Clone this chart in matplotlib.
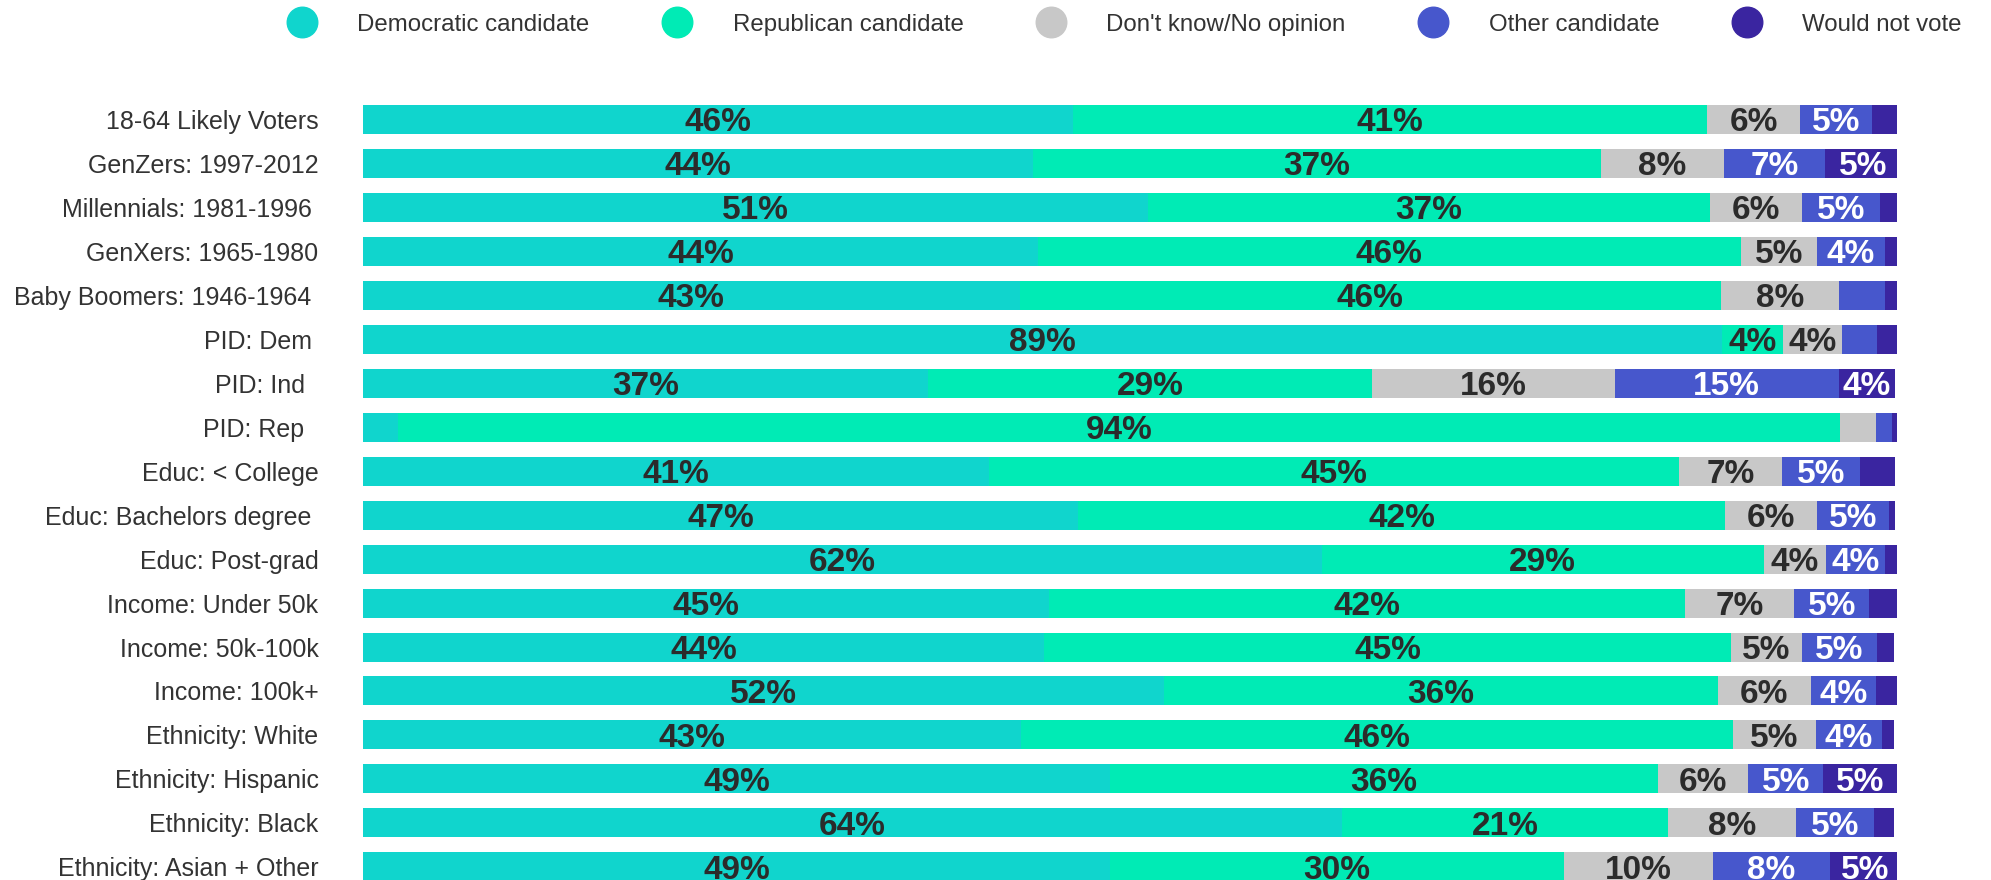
import numpy as np
import matplotlib
matplotlib.use("Agg")
import matplotlib.pyplot as plt
from matplotlib.lines import Line2D

plt.rcParams['font.family'] = ['Liberation Sans', 'DejaVu Sans']

# groups, top to bottom
groups = ["18-64 Likely Voters", "GenZers: 1997-2012", "Millennials: 1981-1996 ",
          "GenXers: 1965-1980", "Baby Boomers: 1946-1964 ", "PID: Dem ", "PID: Ind  ",
          "PID: Rep  ", "Educ: < College", "Educ: Bachelors degree ", "Educ: Post-grad",
          "Income: Under 50k", "Income: 50k-100k", "Income: 100k+", "Ethnicity: White",
          "Ethnicity: Hispanic", "Ethnicity: Black", "Ethnicity: Asian + Other"]

series = ["Democratic candidate", "Republican candidate", "Don't know/No opinion",
          "Other candidate", "Would not vote"]

# percentages
dem   = [46.3, 43.7, 51.2, 44.0, 42.8, 88.6, 36.8, 2.3, 40.8, 46.6, 62.5, 44.7, 44.4, 52.2, 42.9, 48.7, 63.8, 48.7]
rep   = [41.3, 37.0, 36.6, 45.8, 45.7, 4.0, 29.0, 94.0, 45.0, 42.2, 28.8, 41.5, 44.8, 36.1, 46.4, 35.7, 21.3, 29.6]
dk    = [6.1, 8.0, 6.0, 5.0, 7.7, 3.8, 15.8, 2.3, 6.7, 6.0, 4.1, 7.1, 4.6, 6.1, 5.4, 5.9, 8.3, 9.7]
other = [4.7, 6.6, 5.1, 4.4, 3.0, 2.3, 14.6, 1.1, 5.1, 4.7, 3.8, 4.9, 4.9, 4.2, 4.3, 4.9, 5.1, 7.6]
wnv   = [1.6, 5.0, 1.1, 0.8, 0.8, 1.3, 3.7, 0.3, 2.3, 0.4, 0.8, 1.8, 1.1, 1.5, 0.8, 4.8, 1.3, 4.6]

colors = ["#10d5cd", "#00ebb5", "#c8c8c8", "#4757cc", "#3a25a0"]
text_colors = ["#2b2b2b", "#2b2b2b", "#2b2b2b", "white", "white"]

fig = plt.figure(figsize=(19.91, 8.8), dpi=100)
ax = fig.add_axes([363 / 1991, 0.0, 1534 / 1991, 1 - 97.5 / 880])

y = np.arange(len(groups))
left = np.zeros(len(groups))
for vals, col, tcol in zip([dem, rep, dk, other, wnv], colors, text_colors):
    vals = np.array(vals)
    ax.barh(y, vals, left=left, height=0.66, color=col, linewidth=0)
    for yi, l, v in zip(y, left, vals):
        if v >= 3.5:
            ax.text(l + v / 2, yi, f"{round(v)}%", ha="center", va="center_baseline",
                    fontsize=24, fontweight="bold", color=tcol)
    left += vals

ax.set_xlim(0, 100)
ax.set_ylim(17.3, -0.5)
ax.set_yticks(y)
ax.set_yticklabels(groups, fontsize=18, color="#333333")
ax.tick_params(axis="y", length=0, pad=32)
ax.set_xticks([])
for s in ax.spines.values():
    s.set_visible(False)

handles = [Line2D([], [], marker="o", linestyle="none", markersize=22,
                  markerfacecolor=c, markeredgecolor=c) for c in colors]
fig.legend(handles, series, loc="center", bbox_to_anchor=(0.5655, 0.972), ncol=5,
           frameon=False, fontsize=17.3, handlelength=1.0, handletextpad=1.8,
           columnspacing=3.15, labelcolor="#333333")

fig.savefig("out.png", dpi=100)
